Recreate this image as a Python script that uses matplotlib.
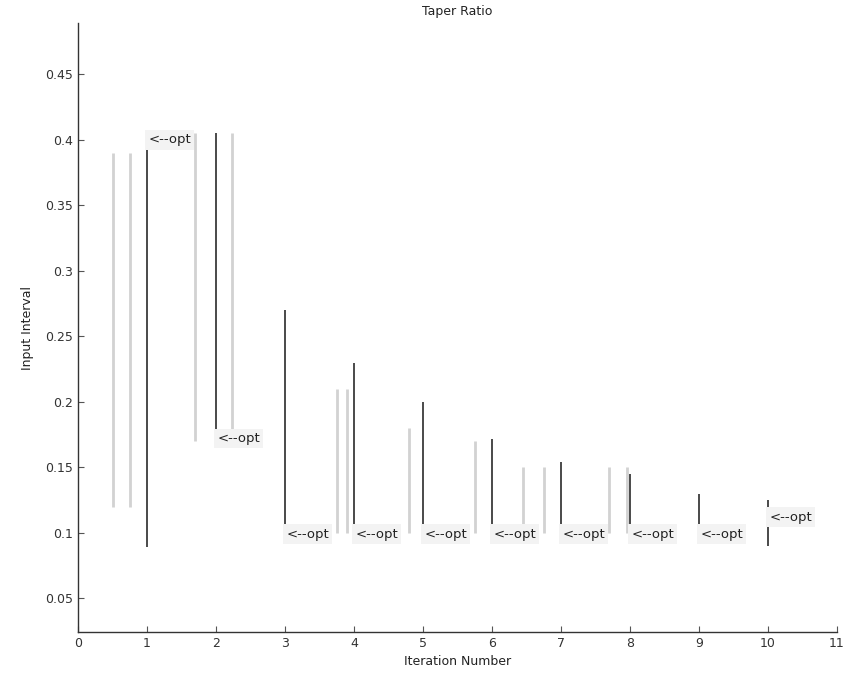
import matplotlib
matplotlib.use("Agg")
import matplotlib.pyplot as plt

# Search interval at each iteration and the optimum found
iterations = [1, 2, 3, 4, 5, 6, 7, 8, 9, 10]
interval_lo = [0.089, 0.172, 0.100, 0.100, 0.100, 0.100, 0.100, 0.100, 0.100, 0.090]
interval_hi = [0.400, 0.405, 0.270, 0.230, 0.200, 0.172, 0.154, 0.145, 0.130, 0.125]
opt_value = [0.400, 0.172, 0.099, 0.099, 0.099, 0.099, 0.099, 0.099, 0.099, 0.112]

# Trial brackets tested between iterations (drawn faint)
trial_x = [0.5, 0.75, 1.70, 2.23, 3.75, 3.90, 4.80, 5.75, 6.45, 6.75, 7.70, 7.95]
trial_lo = [0.120, 0.120, 0.170, 0.170, 0.100, 0.100, 0.100, 0.100, 0.100, 0.100, 0.100, 0.100]
trial_hi = [0.390, 0.390, 0.405, 0.405, 0.210, 0.210, 0.180, 0.170, 0.150, 0.150, 0.150, 0.150]

x_ticks = list(range(0, 12))
y_ticks = [0.05, 0.10, 0.15, 0.20, 0.25, 0.30, 0.35, 0.40, 0.45]
y_tick_labels = ["0.05", "0.1", "0.15", "0.2", "0.25", "0.3", "0.35", "0.4", "0.45"]

plt.rcParams["font.family"] = ["DejaVu Sans"]

fig = plt.figure(figsize=(8.48, 6.86), dpi=100)
ax = fig.add_axes([0.092, 0.079, 0.895, 0.887])

ax.vlines(trial_x, trial_lo, trial_hi, colors="#d2d2d2", linewidth=2.0, zorder=1)
ax.vlines(iterations, interval_lo, interval_hi, colors="#4a4a4a", linewidth=1.4, zorder=2)

for xi, yo in zip(iterations, opt_value):
    ax.annotate("<--opt", xy=(xi, yo), xytext=(1, 0), textcoords="offset points",
                fontsize=9.5, color="#222222", ha="left", va="center",
                bbox=dict(boxstyle="square,pad=0.25", facecolor="#f3f3f3",
                          edgecolor="none"),
                zorder=3)

ax.set_xlim(0, 11)
ax.set_ylim(0.0245, 0.489)
ax.set_xticks(x_ticks)
ax.set_yticks(y_ticks)
ax.set_yticklabels(y_tick_labels)

for side in ("top", "right"):
    ax.spines[side].set_visible(False)
for side in ("left", "bottom"):
    ax.spines[side].set_linestyle((0, (1, 1)))
    ax.spines[side].set_linewidth(1.0)
    ax.spines[side].set_color("#333333")

ax.tick_params(direction="in", length=4, width=0.8, colors="#555555",
               labelcolor="#333333", labelsize=9)

ax.set_title("Taper Ratio", fontsize=9, color="#222222", pad=6)
ax.set_xlabel("Iteration Number", fontsize=9, color="#222222", labelpad=4)
ax.set_ylabel("Input Interval", fontsize=9, color="#222222", labelpad=8)

fig.savefig("out.png", dpi=100)
